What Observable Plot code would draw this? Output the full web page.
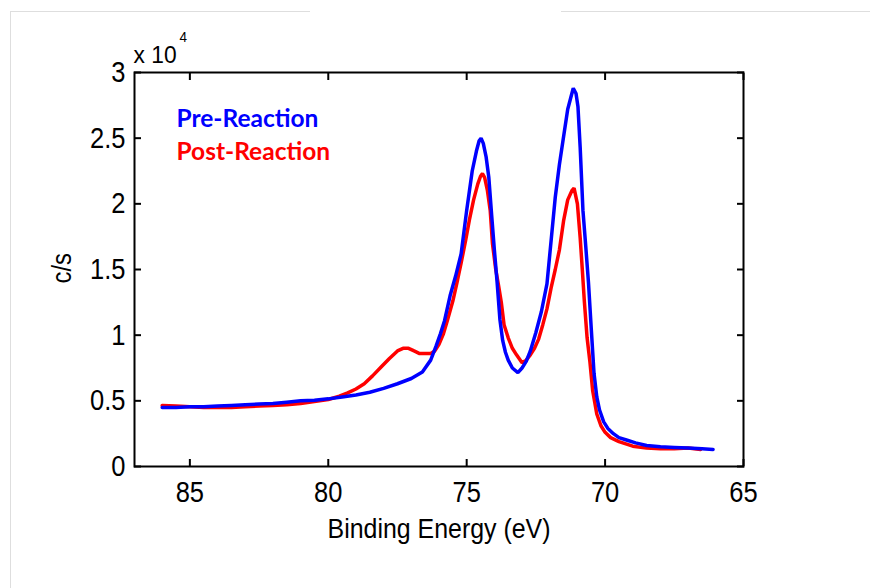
<!DOCTYPE html>
<html><head><meta charset="utf-8">
<script src="https://cdn.jsdelivr.net/npm/d3@7"></script>
<script src="https://cdn.jsdelivr.net/npm/@observablehq/plot@0.6"></script>
<style>
html,body{margin:0;padding:0;background:#fff;}
#wrap{position:relative;width:870px;height:588px;overflow:hidden;background:#fff;}
#wrap svg{position:absolute;left:0;top:0;}
.bl{position:absolute;background:#dedede;}
</style></head><body>
<div id="wrap">
<div class="bl" style="left:10px;top:11px;width:300px;height:1px"></div>
<div class="bl" style="left:561px;top:11px;width:309px;height:1px"></div>
<div class="bl" style="left:10px;top:11px;width:1px;height:577px"></div>
</div>
<script>
const preEnergy = [86.0,85.5,85.0,84.5,84.0,83.5,83.0,82.5,82.0,81.5,81.0,80.5,80.0,79.5,79.0,78.5,78.0,77.5,77.0,76.6,76.3,76.1,75.95,75.8,75.6,75.4,75.2,75.0,74.8,74.65,74.55,74.48,74.4,74.3,74.2,74.1,74.0,73.9,73.8,73.7,73.6,73.5,73.35,73.15,73.0,72.85,72.7,72.5,72.3,72.1,71.95,71.8,71.65,71.5,71.35,71.25,71.15,71.05,70.98,70.9,70.8,70.7,70.6,70.5,70.4,70.3,70.2,70.05,69.9,69.7,69.5,69.2,68.9,68.5,68.0,67.5,67.0,66.5,66.1];
const preCounts = [0.45,0.45,0.455,0.455,0.46,0.465,0.47,0.475,0.48,0.49,0.50,0.505,0.515,0.53,0.545,0.565,0.595,0.63,0.67,0.72,0.81,0.92,1.01,1.11,1.30,1.45,1.62,1.95,2.25,2.40,2.48,2.50,2.46,2.36,2.20,1.92,1.65,1.40,1.12,0.96,0.87,0.81,0.75,0.715,0.75,0.80,0.88,1.02,1.18,1.39,1.72,2.05,2.30,2.51,2.72,2.80,2.88,2.84,2.74,2.43,1.95,1.68,1.40,1.05,0.71,0.53,0.43,0.34,0.29,0.25,0.22,0.20,0.18,0.16,0.15,0.145,0.14,0.135,0.13];
const postEnergy = [86.0,85.5,85.0,84.5,84.0,83.5,83.0,82.5,82.0,81.5,81.0,80.5,80.0,79.6,79.3,79.0,78.7,78.4,78.1,77.8,77.5,77.3,77.1,76.9,76.7,76.5,76.3,76.15,76.0,75.84,75.7,75.5,75.33,75.2,75.04,74.9,74.75,74.6,74.5,74.43,74.35,74.25,74.15,74.07,73.95,73.85,73.75,73.65,73.5,73.35,73.2,73.0,72.85,72.7,72.55,72.4,72.25,72.1,71.95,71.8,71.65,71.5,71.35,71.2,71.12,71.0,70.9,70.82,70.75,70.65,70.55,70.45,70.3,70.15,70.0,69.8,69.5,69.0,68.5,68.0,67.5,67.0,66.55];
const postCounts = [0.465,0.46,0.455,0.45,0.45,0.45,0.455,0.46,0.465,0.47,0.48,0.495,0.51,0.535,0.56,0.59,0.63,0.69,0.755,0.82,0.88,0.90,0.90,0.88,0.86,0.86,0.86,0.88,0.93,1.01,1.11,1.26,1.42,1.55,1.72,1.88,2.03,2.15,2.21,2.23,2.20,2.10,1.95,1.70,1.50,1.38,1.25,1.08,0.98,0.90,0.85,0.79,0.81,0.85,0.90,0.97,1.08,1.20,1.36,1.50,1.65,1.87,2.03,2.10,2.12,2.00,1.74,1.49,1.26,0.98,0.80,0.58,0.40,0.31,0.26,0.22,0.19,0.155,0.14,0.135,0.135,0.14,0.13];
const xTicks = [85, 80, 75, 70, 65];
const yTicks = [0, 0.5, 1, 1.5, 2, 2.5, 3];
const yTickLabels = ["0", "0.5", "1", "1.5", "2", "2.5", "3"];
const seriesNames = ["Pre-Reaction", "Post-Reaction"];
const seriesColors = ["#0000ff", "#ff0000"];
const xLabel = "Binding Energy (eV)";
const yLabel = "c/s";
const yScaleText = "x 10";
const yExponent = "4";

const pre = preEnergy.map((e, i) => ({e, c: preCounts[i]}));
const post = postEnergy.map((e, i) => ({e, c: postCounts[i]}));
const narrowFont = "'Liberation Sans', Arial, sans-serif";
const legendFont = "Lato, 'Open Sans', sans-serif";

const plot = Plot.plot({
  width: 870, height: 588,
  marginLeft: 134, marginRight: 127, marginTop: 72, marginBottom: 122,
  style: {background: "transparent", fontFamily: narrowFont, color: "#000", overflow: "visible"},
  x: {domain: [87, 65]},
  y: {domain: [0, 3]},
  marks: [
    Plot.line(post, {x: "e", y: "c", stroke: seriesColors[1], strokeWidth: 3.5, strokeLinejoin: "miter"}),
    Plot.line(pre, {x: "e", y: "c", stroke: seriesColors[0], strokeWidth: 3.5, strokeLinejoin: "miter"}),
    Plot.frame({stroke: "#000", strokeWidth: 2}),
    Plot.axisX(xTicks, {anchor: "bottom", tickSize: -7, tickPadding: 21, fontSize: 30, fill: "#000", label: null, tickFormat: d => String(d), strokeWidth: 2}),
    Plot.axisX(xTicks, {anchor: "top", tickSize: -7, tickFormat: () => "", label: null, strokeWidth: 2}),
    Plot.axisY(yTicks, {anchor: "left", tickSize: -7, tickPadding: 16, fontSize: 30, fill: "#000", label: null, tickFormat: d => yTickLabels[yTicks.indexOf(d)], strokeWidth: 2}),
    Plot.axisY(yTicks, {anchor: "right", tickSize: -7, tickFormat: () => "", label: null, strokeWidth: 2}),
    Plot.text([xLabel], {text: d => d, frameAnchor: "bottom", dy: 71, lineAnchor: "bottom", fontSize: 28, fill: "#000", ariaLabel: () => "n-0.89"}),
    Plot.text([yLabel], {text: d => d, frameAnchor: "left", dx: -72, dy: 14, rotate: -90, fontSize: 28, fill: "#000", ariaLabel: () => "n-0.85"}),
    Plot.text([yScaleText], {text: d => d, frameAnchor: "top-left", textAnchor: "start", lineAnchor: "bottom", dx: -1, dy: -10, fontSize: 24, fill: "#000", ariaLabel: () => "n-0.95"}),
    Plot.text([yExponent], {text: d => d, frameAnchor: "top-left", textAnchor: "start", lineAnchor: "bottom", dx: 45, dy: -31, fontSize: 15, fill: "#000", ariaLabel: () => "n-0.9"}),
    Plot.text([seriesNames[0]], {text: d => d, frameAnchor: "top-left", textAnchor: "start", lineAnchor: "top", dx: 42, dy: 37, fill: seriesColors[0], fontFamily: legendFont, fontWeight: "bold", fontSize: 24.5}),
    Plot.text([seriesNames[1]], {text: d => d, frameAnchor: "top-left", textAnchor: "start", lineAnchor: "top", dx: 42, dy: 70, fill: seriesColors[1], fontFamily: legendFont, fontWeight: "bold", fontSize: 24.5})
  ]
});
document.getElementById("wrap").appendChild(plot);

// horizontally condense the MATLAB-style labels around their anchor point
function condense(el, s) {
  const xa = el.getAttribute("x");
  const x = xa && /^-?[\d.]+$/.test(xa) ? +xa : 0;
  const t = el.getAttribute("transform") || "";
  el.setAttribute("transform", `${t} translate(${x},0) scale(${s},1) translate(${-x},0)`);
}
d3.select(plot).selectAll('g[aria-label$="tick label"] text').each(function() { condense(this, 0.85); });
d3.select(plot).selectAll('[aria-label^="n-"]').each(function() {
  const s = +this.getAttribute("aria-label").slice(2);
  if (this.tagName.toLowerCase() === "text") condense(this, s);
  else d3.select(this).selectAll("text").each(function() { condense(this, s); });
});
</script>
</body></html>
